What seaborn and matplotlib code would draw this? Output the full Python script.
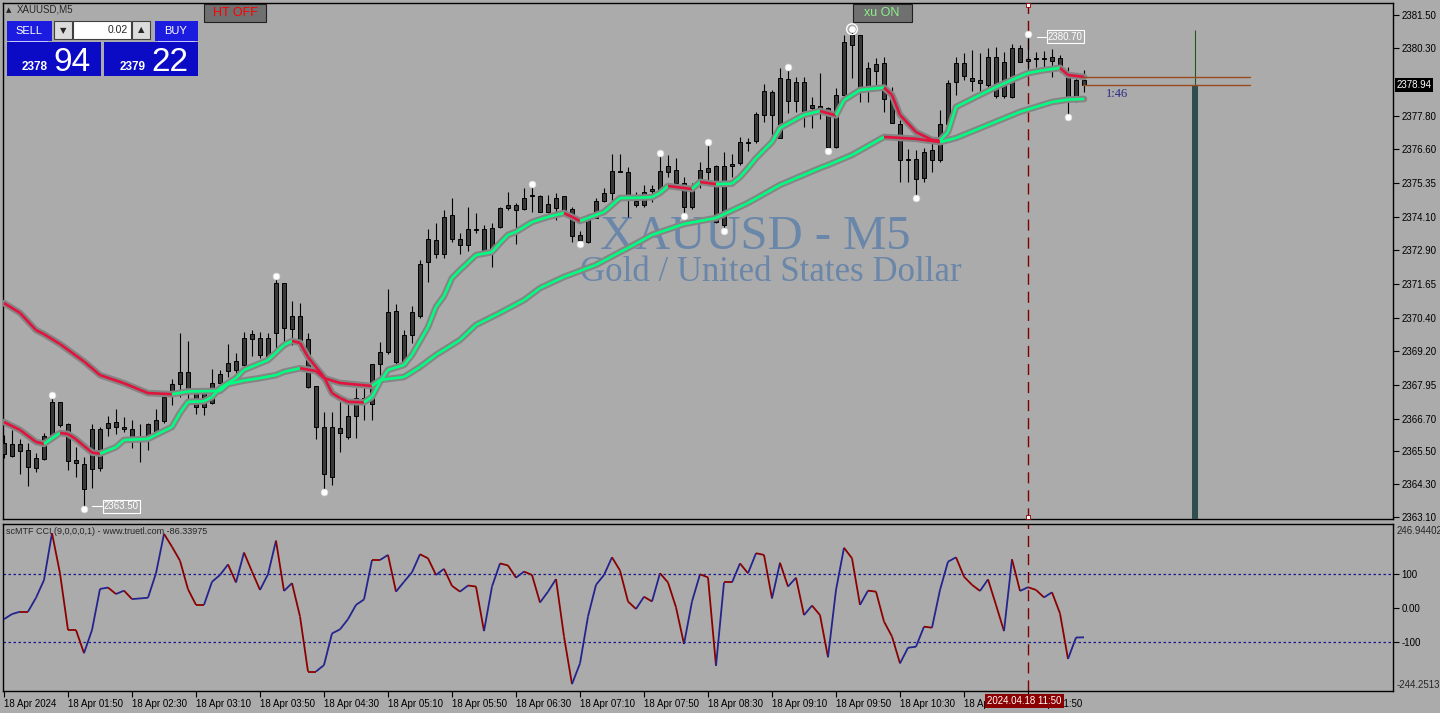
import numpy as np
import pandas as pd
import matplotlib
matplotlib.use('Agg')
import matplotlib.pyplot as plt
from matplotlib.patches import Rectangle
import seaborn as sns

sns.set_theme(style='white')
plt.rcParams['font.family'] = ['Liberation Sans', 'DejaVu Sans']

# ---- XAUUSD M5 candles, 18 Apr 2024 01:10 .. 12:25 ----
opens = [2365.81, 2365.33, 2365.77, 2365.55, 2364.89, 2365.22, 2366.11, 2367.32, 2366.50, 2365.19,
         2364.12, 2364.86, 2364.89, 2366.36, 2366.58, 2366.40, 2366.32, 2366.04, 2366.07, 2366.18,
         2366.62, 2367.72, 2368.41, 2368.41, 2367.68, 2367.13, 2367.28, 2368.01, 2368.45, 2368.49,
         2368.67, 2369.81, 2369.66, 2369.00, 2369.84, 2371.68, 2370.47, 2370.47, 2369.62, 2367.90,
         2366.40, 2364.56, 2366.18, 2366.04, 2366.80, 2367.32, 2367.24, 2368.71, 2370.61, 2370.65,
         2368.78, 2369.77, 2370.47, 2372.45, 2372.74, 2372.74, 2374.17, 2373.07, 2373.07, 2373.66,
         2372.89, 2372.89, 2373.73, 2374.54, 2374.35, 2374.39, 2374.90, 2374.87, 2374.28, 2374.79,
         2374.87, 2374.39, 2373.25, 2373.18, 2374.06, 2374.68, 2374.98, 2375.78, 2375.75, 2374.54,
         2374.54, 2375.05, 2375.05, 2375.97, 2375.82, 2375.34, 2374.46, 2375.30, 2375.89, 2375.97,
         2373.80, 2375.97, 2376.08, 2376.81, 2376.88, 2378.71, 2378.68, 2376.99, 2379.15, 2379.04,
         2379.04, 2378.20, 2378.16, 2376.66, 2376.66, 2378.57, 2380.77, 2380.77, 2378.82, 2379.70,
         2379.74, 2378.46, 2377.50, 2376.22, 2375.49, 2375.53, 2376.19, 2376.19, 2377.50, 2379.04,
         2379.74, 2379.19, 2379.01, 2379.96, 2379.96, 2378.53, 2378.49, 2380.29, 2379.81, 2379.89,
         2379.92, 2379.96, 2379.92, 2379.41, 2378.49, 2379.12]
highs = [2366.11, 2366.29, 2365.96, 2365.81, 2365.44, 2366.18, 2367.46, 2367.32, 2366.54, 2365.66,
         2365.29, 2366.50, 2366.40, 2366.80, 2367.06, 2366.76, 2366.65, 2366.50, 2366.54, 2367.06,
         2367.60, 2368.16, 2369.84, 2369.55, 2367.75, 2367.75, 2368.52, 2368.49, 2369.44, 2369.11,
         2369.88, 2369.95, 2369.88, 2369.84, 2371.83, 2371.68, 2371.02, 2370.94, 2369.84, 2367.90,
         2366.95, 2366.95, 2367.32, 2367.28, 2367.82, 2367.82, 2368.71, 2369.51, 2371.46, 2370.91,
         2369.95, 2370.83, 2372.52, 2373.66, 2373.88, 2374.35, 2374.79, 2373.51, 2374.46, 2374.24,
         2373.80, 2373.88, 2374.46, 2375.01, 2374.61, 2375.16, 2375.20, 2374.90, 2374.90, 2374.98,
         2374.87, 2374.46, 2373.58, 2374.21, 2374.79, 2375.16, 2376.40, 2376.40, 2375.93, 2375.01,
         2375.27, 2375.27, 2376.33, 2376.37, 2376.26, 2375.56, 2375.34, 2376.11, 2376.73, 2376.00,
         2376.48, 2376.40, 2377.03, 2376.99, 2377.94, 2378.97, 2378.75, 2379.56, 2379.48, 2379.23,
         2379.23, 2378.49, 2379.37, 2378.13, 2378.82, 2380.77, 2380.88, 2380.77, 2379.78, 2379.92,
         2379.96, 2378.86, 2377.65, 2376.59, 2376.55, 2376.63, 2376.99, 2378.02, 2379.12, 2379.96,
         2380.11, 2380.22, 2380.11, 2380.29, 2380.33, 2380.14, 2380.44, 2380.40, 2380.70, 2380.14,
         2380.18, 2380.25, 2380.03, 2379.59, 2379.30, 2379.48]
lows = [2365.26, 2365.29, 2364.67, 2364.23, 2364.75, 2365.19, 2366.04, 2366.40, 2364.82, 2364.56,
        2363.50, 2364.16, 2364.78, 2366.07, 2366.14, 2366.21, 2365.62, 2365.11, 2365.55, 2366.11,
        2366.54, 2367.21, 2367.50, 2367.39, 2366.87, 2366.84, 2367.24, 2367.94, 2368.23, 2368.38,
        2368.60, 2369.00, 2368.93, 2368.85, 2369.29, 2369.48, 2369.40, 2369.22, 2367.82, 2365.96,
        2364.12, 2364.27, 2365.48, 2365.96, 2366.00, 2366.65, 2366.65, 2368.23, 2369.07, 2368.63,
        2368.60, 2369.48, 2370.39, 2371.71, 2372.59, 2372.59, 2373.18, 2372.74, 2372.85, 2373.51,
        2372.81, 2372.26, 2373.69, 2374.35, 2373.11, 2374.35, 2374.28, 2374.28, 2374.24, 2373.99,
        2374.32, 2373.18, 2373.22, 2373.14, 2374.06, 2374.65, 2374.65, 2375.75, 2374.10, 2374.46,
        2374.46, 2374.65, 2375.01, 2375.56, 2375.30, 2374.24, 2374.39, 2375.16, 2375.45, 2373.88,
        2373.69, 2375.56, 2376.00, 2376.52, 2376.81, 2377.58, 2376.99, 2376.99, 2377.91, 2377.94,
        2377.40, 2377.36, 2377.69, 2376.63, 2376.63, 2378.49, 2379.19, 2378.31, 2378.31, 2378.93,
        2377.94, 2377.54, 2375.38, 2375.38, 2374.90, 2375.38, 2375.75, 2376.11, 2377.47, 2378.57,
        2379.12, 2378.71, 2378.64, 2378.71, 2378.46, 2378.46, 2378.46, 2379.78, 2379.37, 2379.59,
        2379.41, 2379.23, 2379.41, 2377.87, 2378.31, 2378.68]
closes = [2365.40, 2365.77, 2365.51, 2364.93, 2365.26, 2366.07, 2367.32, 2366.47, 2365.15, 2365.08,
          2365.04, 2366.32, 2366.32, 2366.54, 2366.40, 2366.32, 2366.04, 2366.07, 2366.50, 2366.65,
          2367.50, 2367.97, 2367.97, 2367.64, 2367.13, 2367.64, 2368.01, 2368.34, 2368.74, 2368.81,
          2369.66, 2369.62, 2369.04, 2369.66, 2371.68, 2370.03, 2369.99, 2369.59, 2367.86, 2366.40,
          2364.67, 2366.40, 2366.36, 2366.80, 2367.46, 2367.46, 2368.71, 2369.15, 2369.15, 2368.78,
          2369.77, 2370.61, 2372.37, 2373.29, 2373.25, 2374.10, 2373.29, 2373.29, 2373.66, 2373.62,
          2373.66, 2373.69, 2374.43, 2374.43, 2374.54, 2374.79, 2374.87, 2374.28, 2374.57, 2374.43,
          2374.35, 2373.40, 2373.44, 2374.06, 2374.68, 2374.98, 2375.78, 2375.75, 2374.90, 2374.68,
          2375.01, 2375.12, 2375.78, 2375.75, 2375.34, 2374.46, 2375.05, 2375.82, 2375.75, 2373.91,
          2375.97, 2376.04, 2376.85, 2376.85, 2377.87, 2377.83, 2377.83, 2379.19, 2378.35, 2378.35,
          2377.91, 2378.09, 2378.09, 2378.09, 2378.57, 2380.51, 2380.40, 2378.82, 2379.56, 2379.45,
          2378.42, 2377.54, 2376.19, 2376.19, 2376.22, 2376.48, 2376.55, 2377.50, 2379.01, 2379.74,
          2379.26, 2379.08, 2379.12, 2378.93, 2378.53, 2379.78, 2380.29, 2379.78, 2379.89, 2379.92,
          2379.89, 2379.81, 2379.48, 2378.49, 2379.12, 2378.94]

# moving averages (bar index, price)
fast_idx = [0, 2, 4, 5, 7, 8, 9, 10, 11, 12, 14, 15, 18, 19, 21, 22, 23, 25, 26, 27, 29, 30, 33, 35, 36,
            37, 38, 40, 41, 42, 43, 45, 46, 47, 48, 50, 51, 53, 54, 55, 56, 57, 59, 61, 62, 63, 64, 66,
            68, 70, 71, 72, 73, 75, 77, 79, 81, 82, 83, 85, 86, 87, 89, 91, 92, 93, 94, 95, 96, 97, 100,
            102, 104, 105, 107, 110, 111, 112, 114, 116, 117, 118, 119, 122, 124, 126, 128, 130, 132,
            133, 135]
fast_ma = [2366.58, 2366.29, 2365.85, 2365.78, 2366.18, 2366.14, 2365.95, 2365.70, 2365.46, 2365.42,
           2365.66, 2365.92, 2365.96, 2366.11, 2366.40, 2366.91, 2367.32, 2367.34, 2367.50, 2367.82,
           2368.19, 2368.49, 2368.85, 2369.40, 2369.55, 2369.48, 2368.96, 2368.23, 2367.64, 2367.46,
           2367.32, 2367.30, 2367.50, 2368.05, 2368.49, 2368.67, 2369.04, 2370.06, 2370.80, 2371.20,
           2371.86, 2372.15, 2372.70, 2372.81, 2373.14, 2373.44, 2373.55, 2373.91, 2374.10, 2374.24,
           2374.10, 2373.95, 2374.06, 2374.28, 2374.79, 2374.80, 2374.82, 2374.98, 2375.23, 2375.16,
           2375.12, 2375.38, 2375.30, 2375.32, 2375.56, 2375.89, 2376.25, 2376.55, 2376.84, 2377.36,
           2377.84, 2377.98, 2377.82, 2378.38, 2378.75, 2378.84, 2378.57, 2377.84, 2377.21, 2376.92,
           2376.90, 2377.21, 2378.13, 2378.57, 2378.86, 2379.12, 2379.37, 2379.48, 2379.56, 2379.30,
           2379.23]
slow_idx = [0, 2, 4, 5, 7, 10, 12, 15, 18, 21, 23, 27, 28, 30, 32, 34, 35, 37, 39, 40, 42, 46, 47, 50,
            52, 54, 57, 59, 62, 65, 67, 70, 74, 77, 78, 81, 85, 89, 93, 97, 102, 103, 106, 110, 114,
            117, 119, 123, 127, 131, 133, 135]
slow_ma = [2370.94, 2370.58, 2369.95, 2369.80, 2369.44, 2368.80, 2368.30, 2368.00, 2367.64, 2367.60,
           2367.70, 2367.72, 2367.97, 2368.10, 2368.19, 2368.30, 2368.42, 2368.55, 2368.45, 2368.19,
           2368.01, 2367.90, 2368.12, 2368.23, 2368.60, 2369.04, 2369.59, 2370.14, 2370.58, 2371.05,
           2371.49, 2371.90, 2372.34, 2372.81, 2372.96, 2373.44, 2373.84, 2374.06, 2374.61, 2375.27,
           2375.89, 2376.00, 2376.37, 2377.03, 2376.96, 2376.84, 2376.99, 2377.47, 2377.95, 2378.31,
           2378.40, 2378.42]

# scMTF CCI(9), one value per bar
cci = [-33, -18, -11, -11, 30, 82, 220, 102, -65, -65, -133, -65, 56, 60, 41, 51, 26, 28, 30, 102,
       218, 180, 139, 55, 9, 9, 77, 97, 128, 75, 163, 107, 53, 99, 198, 50, 73, -25, -187, -187,
       -168, -75, -63, -33, 9, 25, 141, 141, 156, 48, 77, 105, 158, 146, 97, 115, 65, 48, 66, 63,
       -68, 63, 131, 125, 89, 107, 97, 16, 48, 85, -84, -224, -163, -25, 68, 97, 149, 110, 19, -3,
       33, 19, 102, 75, 2, -106, 19, 99, 90, -170, 75, 75, 131, 102, 161, 156, 28, 133, 63, 89,
       -21, 7, -21, -145, 53, 177, 146, 9, 51, 48, -40, -84, -163, -117, -114, -55, -58, 53, 136, 149,
       92, 68, 50, 84, 9, -68, 143, 50, 61, 53, 31, 46, -16, -150, -87, -86.34]

fractal_up = [6, 34, 66, 82, 88, 98, 128]
fractal_dn = [10, 40, 72, 85, 90, 103, 114, 133]
ring_bar = 106

price_ticks = [2381.50, 2380.30, 2377.80, 2376.60, 2375.35, 2374.10, 2372.90, 2371.65,
               2370.40, 2369.20, 2367.95, 2366.70, 2365.50, 2364.30, 2363.10]
time_ticks = list(range(0, 129, 8))
time_labels = ['18 Apr 2024', '18 Apr 01:50', '18 Apr 02:30', '18 Apr 03:10', '18 Apr 03:50',
               '18 Apr 04:30', '18 Apr 05:10', '18 Apr 05:50', '18 Apr 06:30', '18 Apr 07:10',
               '18 Apr 07:50', '18 Apr 08:30', '18 Apr 09:10', '18 Apr 09:50', '18 Apr 10:30',
               '18 Apr 11:10', '18 Apr 11:50']
bid, ask = 2378.94, 2379.22

BG = '#ABABAB'
GREEN = '#00FF80'
RED = '#E0143C'
W, H = 1440, 713

df = pd.DataFrame({'open': opens, 'high': highs, 'low': lows, 'close': closes})
df['bar'] = np.arange(len(df))


def px_box(x0, y0, x1, y1):
    return [x0 / W, 1 - y1 / H, (x1 - x0) / W, (y1 - y0) / H]


def two_tone(ax, xs, ys, up, down, lw, z, flat_up=True):
    for k in range(len(xs) - 1):
        rising = ys[k + 1] >= ys[k] if flat_up else ys[k + 1] > ys[k]
        ax.plot(xs[k:k + 2], ys[k:k + 2], color=up if rising else down, lw=lw,
                solid_capstyle='butt', zorder=z)


fig = plt.figure(figsize=(14.4, 7.13), dpi=100, facecolor=BG)
ax = fig.add_axes(px_box(3, 3, 1393, 519))
ax2 = fig.add_axes(px_box(3, 524, 1393, 691))
XLIM = (-0.125, 173.625)
YLIM = (2363.025, 2381.94)

for a in (ax, ax2):
    a.set_facecolor(BG)
    a.set_xlim(*XLIM)
    for s in a.spines.values():
        s.set_color('black')
        s.set_linewidth(1)

# --- price panel ---
ax.set_ylim(*YLIM)
top = df[['open', 'close']].max(axis=1)
bot = df[['open', 'close']].min(axis=1)
ax.vlines(df['bar'], df['low'], df['high'], color='black', lw=0.8, zorder=3)
ax.bar(df['bar'], np.maximum(top - bot, 0.015), bottom=bot, width=0.62, color='#393939',
       edgecolor='black', linewidth=0.7, zorder=4)

for xs, ys in ((slow_idx, slow_ma), (fast_idx, fast_ma)):
    sns.lineplot(x=xs, y=ys, ax=ax, color='#858585', lw=4.8, sort=False, estimator=None,
                 legend=False, zorder=5)
    two_tone(ax, xs, ys, GREEN, RED, 1.9, 6)

up_y = [df['high'][i] + 0.1 for i in fractal_up]
dn_y = [df['low'][i] - 0.1 for i in fractal_dn]
ax.scatter(fractal_up + fractal_dn, up_y + dn_y, s=24, color='white', edgecolor='#d8d8d8',
           linewidth=0.5, zorder=7)
ax.scatter([ring_bar], [df['high'][ring_bar] + 0.1], s=60, facecolor='none', edgecolor='white',
           linewidth=1.0, zorder=7)
ax.scatter([ring_bar], [df['high'][ring_bar] + 0.1], s=14, color='white', zorder=7)

# watermark
ax.text(93.9, 2372.92, 'XAUUSD - M5', ha='center', va='baseline', fontsize=35,
        family='Liberation Serif', color='#6A86A9', zorder=1)
ax.text(95.8, 2371.75, 'Gold / United States Dollar', ha='center', va='baseline', fontsize=25,
        family='Liberation Serif', color='#6A86A9', zorder=1)

# high / low labels
ax.plot([11.0, 12.2], [2363.50, 2363.50], color='white', lw=0.8, zorder=7)
ax.text(12.5, 2363.50, '2363.50', color='white', fontsize=7, va='center', ha='left', zorder=7,
        bbox=dict(boxstyle='square,pad=0.15', fc='none', ec='white', lw=0.8))
ax.plot([129.1, 130.2], [2380.70, 2380.70], color='white', lw=0.8, zorder=7)
ax.text(130.5, 2380.70, '2380.70', color='white', fontsize=7, va='center', ha='left', zorder=7,
        bbox=dict(boxstyle='square,pad=0.15', fc='none', ec='white', lw=0.8))

# bid / ask lines, timer, bar
ax.plot([134.9, 155.75], [ask, ask], color='#9A4A1E', lw=1, zorder=6)
ax.plot([134.9, 155.75], [bid, bid], color='#9A4A1E', lw=1, zorder=6)
ax.text(137.8, 2378.62, '1:46', color='#2A2A86', fontsize=9, family='Liberation Serif',
        va='center', ha='left')
ax.bar([148.9], [bid - YLIM[0]], bottom=YLIM[0], width=0.8, color='#2F4F4F', edgecolor='none',
       linewidth=0, zorder=4)
ax.vlines([148.9], bid, 2380.95, color='#1E5A1E', lw=0.8, zorder=4)

ax.axvline(128, color='#800000', lw=1, dashes=(8, 5), zorder=2)
ax.scatter([128, 128], [YLIM[1] - 0.08, YLIM[0] + 0.08], marker='s', s=10, color='white',
           edgecolor='#8B0000', linewidth=0.6, zorder=8, clip_on=False)

ax.set_xticks([])
ax.yaxis.tick_right()
ax.set_yticks(price_ticks)
ax.set_yticklabels(['%.2f' % v for v in price_ticks])
ax.tick_params(axis='y', direction='out', length=4, width=0.8, colors='black', labelsize=7,
               pad=2, right=True, left=False)
ax.annotate('%.2f' % bid, xy=(1, bid), xycoords=('axes fraction', 'data'), xytext=(2.5, 0),
            textcoords='offset points', ha='left', va='center', color='white', fontsize=7,
            bbox=dict(boxstyle='square,pad=0.2', fc='black', ec='none'), annotation_clip=False,
            zorder=10)

# --- CCI panel ---
ax2.set_ylim(-244.25, 246.94)
ax2.axhline(100, color='#1A1A8C', lw=0.9, dashes=(2, 2))
ax2.axhline(-100, color='#1A1A8C', lw=0.9, dashes=(2, 2))
ax2.axvline(128, color='#800000', lw=1, dashes=(8, 5), zorder=2)
two_tone(ax2, list(range(len(cci))), cci, '#24248F', '#8B0000', 1.3, 5, flat_up=False)

ax2.yaxis.tick_right()
ax2.set_yticks([100, 0, -100])
ax2.set_yticklabels(['100', '0.00', '-100'])
ax2.tick_params(axis='y', direction='out', length=4, width=0.8, colors='black', labelsize=7,
                pad=2, right=True, left=False)
ax2.set_xticks(time_ticks)
ax2.set_xticklabels(time_labels)
ax2.tick_params(axis='x', direction='out', length=4, width=0.8, colors='black', labelsize=7,
                pad=1.5, bottom=True)
for lbl in ax2.get_xticklabels():
    lbl.set_ha('left')
ax2.annotate('2024.04.18 11:50', xy=(128, 0), xycoords=('data', 'axes fraction'),
             xytext=(-2.5, -7.3), textcoords='offset points', ha='center', va='center',
             color='white', fontsize=7, annotation_clip=False, zorder=10,
             bbox=dict(boxstyle='square,pad=0.2', fc='#8B0000', ec='none'))
fig.text(6 / W, 1 - 531 / H, 'scMTF CCI (9,0,0,0,1) - www.truetl.com -86.33975', fontsize=6.5,
         va='center', ha='left')
fig.text(1397 / W, 1 - 531 / H, '246.94402', fontsize=7, va='center', ha='left')
fig.text(1397 / W, 1 - 685 / H, '-244.2513', fontsize=7, va='center', ha='left')

# --- trade panel and buttons ---
def rect(x0, y0, x1, y1, fc, ec='none', lw=0.8):
    fig.add_artist(Rectangle((x0 / W, 1 - y1 / H), (x1 - x0) / W, (y1 - y0) / H,
                             transform=fig.transFigure, fc=fc, ec=ec, lw=lw))


def ftext(x, y, s, **kw):
    fig.text(x / W, 1 - y / H, s, **kw)


ftext(6, 10, '▲', fontsize=5, family='DejaVu Sans', va='center')
ftext(17, 10, 'XAUUSD,M5', fontsize=7, va='center')

rect(7, 21, 52, 41, '#1C1CE0')
rect(155, 21, 198, 41, '#1C1CE0')
rect(7, 42, 101, 76, '#0B0BC6')
rect(104, 42, 198, 76, '#0B0BC6')
rect(10, 41.5, 48, 42.3, '#C8C8FF')
rect(158, 41.5, 195, 42.3, '#C8C8FF')
ftext(29, 30.5, 'SELL', fontsize=8, color='white', ha='center', va='center')
ftext(176, 30.5, 'BUY', fontsize=8, color='white', ha='center', va='center')
ftext(22, 70, '2378', fontsize=8.5, color='white', fontweight='bold', va='baseline')
ftext(53, 71, '94', fontsize=24, color='white', va='baseline')
ftext(120, 70, '2379', fontsize=8.5, color='white', fontweight='bold', va='baseline')
ftext(151, 71, '22', fontsize=24, color='white', va='baseline')
rect(54, 21, 72, 39, '#DCDCDC', ec='#404040')
rect(73, 21, 131, 39, 'white', ec='#404040')
rect(132, 21, 150, 39, '#DCDCDC', ec='#404040')
ftext(63, 30.5, '▼', fontsize=6, family='DejaVu Sans', ha='center', va='center')
ftext(141, 29.5, '▲', fontsize=6, family='DejaVu Sans', ha='center', va='center')
ftext(128, 30, '0.02', fontsize=7.5, ha='right', va='center')

rect(204, 4, 266, 22, '#707070', ec='#202020')
ftext(235, 13.5, 'HT OFF', fontsize=9, color='#FF0000', ha='center', va='center', zorder=5)
rect(853, 4, 912, 22, '#707070', ec='#202020')
ftext(882, 13.5, 'xu ON', fontsize=9, color='#8CF08C', ha='center', va='center', zorder=5)

fig.savefig('out.png', dpi=100, facecolor=BG)
